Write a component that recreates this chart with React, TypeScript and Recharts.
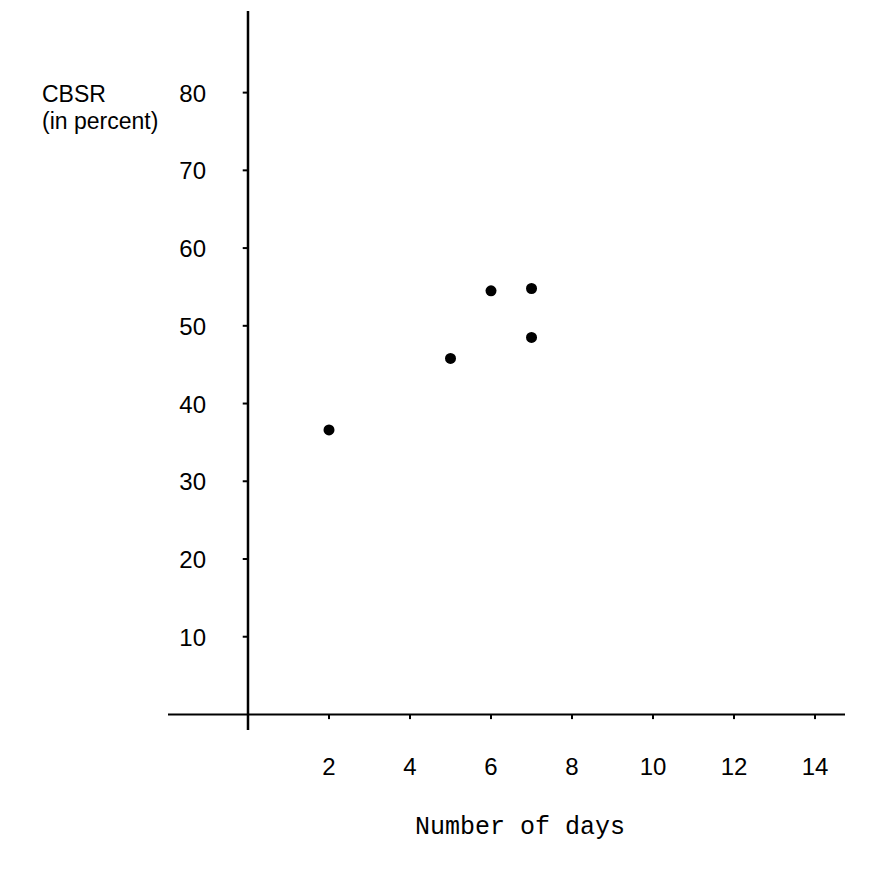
import { ScatterChart, Scatter, XAxis, YAxis, ReferenceLine } from "recharts"

const days = [2, 5, 6, 7, 7]
const cbsr = [36.6, 45.8, 54.5, 54.8, 48.5]
const xTicks = [2, 4, 6, 8, 10, 12, 14]
const yTicks = [10, 20, 30, 40, 50, 60, 70, 80]

const points = days.map((d, i) => ({ days: d, cbsr: cbsr[i] }))

const sans = "'Liberation Sans', Arial, sans-serif"
const mono = "'Liberation Mono', 'Courier New', monospace"

const Dot = (props: any) => <circle cx={props.cx} cy={props.cy} r={5.5} fill="#000" />

const XTick = ({ x, y, payload }: any) => (
  <text x={x} y={y + 37} textAnchor="middle" fontFamily={sans} fontSize={24} fill="#000">
    {payload.value}
  </text>
)

// labels sit to the right of the plot's left edge, just left of the zero line
const YTick = ({ y, payload }: any) => (
  <text x={198} y={y + 9} textAnchor="end" fontFamily={sans} fontSize={24} fill="#000">
    {payload.value}
  </text>
)

export default function App() {
  return (
    <ScatterChart width={862} height={861} margin={{ top: 3, right: 25, left: 100, bottom: 79 }}>
      <XAxis
        type="number"
        dataKey="days"
        domain={[-1.975, 14.74]}
        ticks={xTicks}
        allowDataOverflow
        axisLine={false}
        tickLine={false}
        height={60}
        tick={XTick}
        label={{
          content: ({ viewBox }: any) => (
            <text
              x={viewBox.x + 352}
              y={viewBox.y + 104}
              textAnchor="middle"
              fontFamily={mono}
              fontSize={25}
              fill="#000"
            >
              Number of days
            </text>
          ),
        }}
      />
      <YAxis
        type="number"
        dataKey="cbsr"
        domain={[-2, 90.5]}
        ticks={yTicks}
        allowDataOverflow
        axisLine={false}
        tickLine={false}
        width={60}
        tick={YTick}
        label={{
          content: () => (
            <text fontFamily={sans} fontSize={23} fill="#000">
              <tspan x={34} y={94}>CBSR</tspan>
              <tspan x={34} y={121}>(in percent)</tspan>
            </text>
          ),
        }}
      />
      <ReferenceLine x={0} stroke="#000" strokeWidth={2.5} />
      <ReferenceLine y={0} stroke="#000" strokeWidth={2} />
      {yTicks.map((v) => (
        <ReferenceLine
          key={"y" + v}
          segment={[{ x: -0.13, y: v }, { x: 0.02, y: v }]}
          stroke="#000"
          strokeWidth={2}
        />
      ))}
      {xTicks.map((v) => (
        <ReferenceLine
          key={"x" + v}
          segment={[{ x: v, y: 0 }, { x: v, y: -0.6 }]}
          stroke="#000"
          strokeWidth={2}
        />
      ))}
      <Scatter data={points} fill="#000" shape={Dot} isAnimationActive={false} />
    </ScatterChart>
  )
}
